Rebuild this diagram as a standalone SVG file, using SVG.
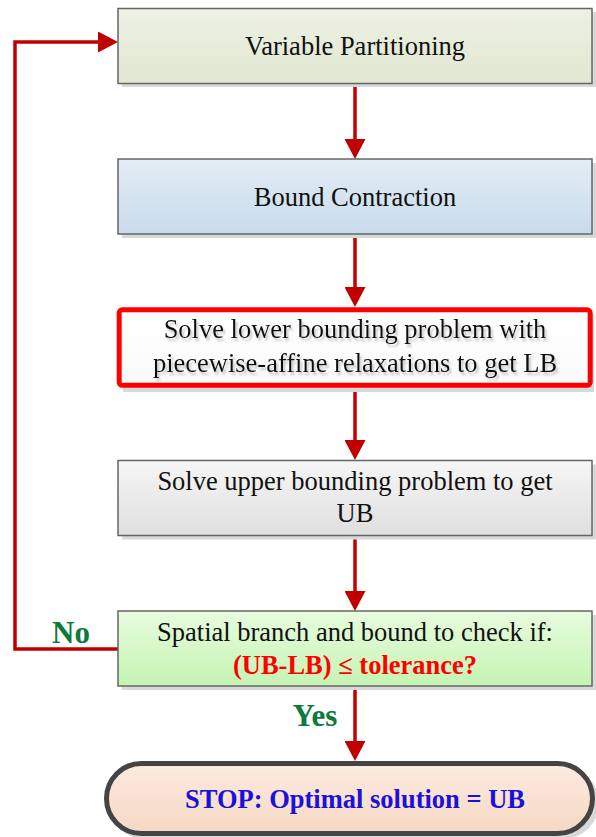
<svg xmlns="http://www.w3.org/2000/svg" width="596" height="837" viewBox="0 0 596 837">
  <defs>
    <linearGradient id="gPart" x1="0" y1="0" x2="0" y2="1">
      <stop offset="0" stop-color="#eef1e4"/>
      <stop offset="1" stop-color="#e1e7d1"/>
    </linearGradient>
    <linearGradient id="gBound" x1="0" y1="0" x2="0" y2="1">
      <stop offset="0" stop-color="#e3edf6"/>
      <stop offset="1" stop-color="#c8dbeb"/>
    </linearGradient>
    <linearGradient id="gLower" x1="0" y1="0" x2="0" y2="1">
      <stop offset="0" stop-color="#ffffff"/>
      <stop offset="1" stop-color="#fafafa"/>
    </linearGradient>
    <linearGradient id="gUpper" x1="0" y1="0" x2="0" y2="1">
      <stop offset="0" stop-color="#f6f6f6"/>
      <stop offset="1" stop-color="#dfdfdf"/>
    </linearGradient>
    <linearGradient id="gCheck" x1="0" y1="0" x2="0" y2="1">
      <stop offset="0" stop-color="#e8fcde"/>
      <stop offset="1" stop-color="#c5f4b3"/>
    </linearGradient>
    <linearGradient id="gStop" x1="0" y1="0" x2="0" y2="1">
      <stop offset="0" stop-color="#fbebe0"/>
      <stop offset="1" stop-color="#f6d8c3"/>
    </linearGradient>
    <filter id="tshadow" x="-5%" y="-20%" width="110%" height="150%">
      <feDropShadow dx="2" dy="3" stdDeviation="0.8" flood-color="#9a9a9a" flood-opacity="0.55"/>
    </filter>
    <marker id="arrow" viewBox="0 0 20 21" refX="0" refY="10.5" markerWidth="20" markerHeight="21" markerUnits="userSpaceOnUse" orient="auto">
      <path d="M0,0 L20,10.5 L0,21 Z" fill="#c00000"/>
    </marker>
    <style>
      .box { stroke: #666666; stroke-width: 1.5; }
      .shadow { fill: #d9d9d9; }
      .txt { font-family: "Liberation Serif", "Times New Roman", serif; font-size: 26.5px; fill: #111111; text-anchor: middle; }
      .bold { font-weight: bold; }
      .red { fill: #ff0000; }
      .green { fill: #0b7a3b; font-size: 31px; }
      .blue { fill: #1c10dc; }
      .conn { fill: none; stroke: #c00000; stroke-width: 3.5; stroke-linejoin: miter; }
    </style>
  </defs>

  <g id="connectors">
    <path class="conn" d="M355,84 V139" marker-end="url(#arrow)"/>
    <path class="conn" d="M355,234 V287" marker-end="url(#arrow)"/>
    <path class="conn" d="M355,389 V440" marker-end="url(#arrow)"/>
    <path class="conn" d="M355,536 V591" marker-end="url(#arrow)"/>
    <path class="conn" d="M355,686 V741" marker-end="url(#arrow)"/>
    <path class="conn" d="M118,649 H15 V42 H98" marker-end="url(#arrow)"/>
    <text class="txt bold green" x="71" y="643">No</text>
    <text class="txt bold green" x="315" y="726">Yes</text>
  </g>

  <g id="node-partitioning">
    <rect class="shadow" x="122" y="12" width="474" height="75"/>
    <rect class="box" x="118" y="8.5" width="474" height="75" fill="url(#gPart)"/>
    <text class="txt" x="355" y="55">Variable Partitioning</text>
  </g>

  <g id="node-contraction">
    <rect class="shadow" x="122" y="163" width="474" height="75"/>
    <rect class="box" x="118" y="159" width="474" height="75" fill="url(#gBound)"/>
    <text class="txt" x="355" y="206">Bound Contraction</text>
  </g>

  <g id="node-lower">
    <rect class="shadow" x="123" y="314" width="471" height="78"/>
    <rect x="119.2" y="309.8" width="471" height="75.5" rx="3" fill="url(#gLower)" stroke="#ff0000" stroke-width="5"/>
    <g filter="url(#tshadow)">
      <text class="txt" x="355" y="338">Solve lower bounding problem with</text>
      <text class="txt" x="355" y="371.5">piecewise-affine relaxations to get LB</text>
    </g>
  </g>

  <g id="node-upper">
    <rect class="shadow" x="122" y="464.5" width="474" height="75"/>
    <rect class="box" x="118" y="460.5" width="474" height="75" fill="url(#gUpper)"/>
    <text class="txt" x="355" y="490">Solve upper bounding problem to get</text>
    <text class="txt" x="355" y="521.5">UB</text>
  </g>

  <g id="node-check">
    <rect class="shadow" x="122" y="615" width="474" height="75"/>
    <rect class="box" x="118" y="611" width="474" height="75" fill="url(#gCheck)"/>
    <text class="txt" x="355" y="641">Spatial branch and bound to check if:</text>
    <text class="txt bold red" x="355" y="674">(UB-LB) ≤ tolerance?</text>
  </g>

  <g id="node-stop">
    <rect class="shadow" x="109" y="767" width="490" height="72" rx="36"/>
    <rect x="106.5" y="763.5" width="486" height="70" rx="35" fill="url(#gStop)" stroke="#444444" stroke-width="5"/>
    <text class="txt bold blue" x="355" y="808">STOP: Optimal solution = UB</text>
  </g>
</svg>
